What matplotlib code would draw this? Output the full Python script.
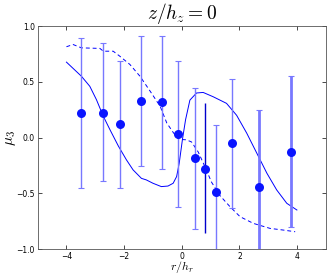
import numpy as np
import matplotlib
matplotlib.use("Agg")
import matplotlib.pyplot as plt

# data points with asymmetric error bars
r_pts = [-3.48, -2.72, -2.16, -1.40, -0.67, -0.115, 0.44, 1.19, 1.75, 2.67, 3.79]
mu_pts = [0.22, 0.22, 0.12, 0.33, 0.315, 0.03, -0.185, -0.485, -0.05, -0.445, -0.13]
err_hi = [0.89, 0.845, 0.69, 0.91, 0.91, 0.69, 0.445, 0.115, 0.525, 0.25, 0.55]
err_lo = [-0.455, -0.39, -0.455, -0.255, -0.285, -0.625, -0.82, -1.2, -0.635, -1.2, -0.80]
thick = [False, False, False, False, False, False, False, False, False, True, True]

# the darker bar without caps
r_dark = 0.81
mu_dark = -0.28
dark_hi = 0.307
dark_lo = -0.86

# solid model curve
r_solid = [-4.0, -3.48, -3.19, -2.96, -2.72, -2.49, -2.2, -1.92, -1.69, -1.40, -1.23,
           -1.00, -0.71, -0.48, -0.30, -0.18, -0.09, 0.02, 0.13, 0.28, 0.51, 0.74,
           1.09, 1.55, 1.90, 2.25, 2.60, 2.95, 3.29, 3.64, 3.99]
mu_solid = [0.677, 0.55, 0.46, 0.34, 0.19, 0.07, -0.076, -0.20, -0.29, -0.366, -0.38,
            -0.41, -0.44, -0.435, -0.41, -0.35, -0.23, -0.02, 0.16, 0.336, 0.40, 0.405,
            0.366, 0.307, 0.20, 0.04, -0.14, -0.32, -0.47, -0.59, -0.65]

# dashed model curve
r_dash = [-4.0, -3.77, -3.48, -2.84, -2.72, -2.38, -2.15, -1.80, -1.45, -1.10, -0.75,
          -0.52, -0.29, -0.11, 0.16, 0.34, 0.57, 0.80, 1.03, 1.32, 1.67, 2.02, 2.48,
          3.06, 3.52, 3.93]
mu_dash = [0.815, 0.835, 0.805, 0.80, 0.775, 0.775, 0.73, 0.656, 0.55, 0.417, 0.28,
           0.13, 0.043, -0.016, -0.02, -0.04, -0.13, -0.26, -0.40, -0.52, -0.62, -0.71,
           -0.77, -0.815, -0.83, -0.845]

plt.rcParams['font.size'] = 5.5
plt.rcParams['mathtext.fontset'] = 'cm'
fig = plt.figure(figsize=(3.27, 2.75), dpi=100)
ax = fig.add_axes([0.115, 0.0945, 0.882, 0.8105])

ax.plot(r_solid, mu_solid, color='#0000ff', lw=0.7)
ax.plot(r_dash, mu_dash, color='#0000ff', lw=0.7, ls='--', dashes=(4, 3))

for x, y, hi, lo, t in zip(r_pts, mu_pts, err_hi, err_lo, thick):
    ax.errorbar([x], [y], yerr=[[y - lo], [hi - y]], fmt='none',
                ecolor='#7878ff', elinewidth=2.0 if t else 1.0, capsize=2.5, capthick=0.8)

ax.vlines(r_dark, dark_lo, dark_hi, color='#0000cc', lw=1.0)
ax.plot(r_pts + [r_dark], mu_pts + [mu_dark], 'o', color='#0a14ff', ms=6.5, mew=0)

ax.set_xlim(-5, 5)
ax.set_ylim(-1, 1)
ax.set_xticks([-4, -2, 0, 2, 4])
ax.set_yticks([-1.0, -0.5, 0.0, 0.5, 1.0])
ax.tick_params(direction='in', top=True, right=True, length=3, width=0.5, pad=2)
for s in ax.spines.values():
    s.set_linewidth(0.6)
    s.set_color('#555555')

ax.set_title(r'$z/h_z=0$', fontsize=14, pad=5)
ax.set_xlabel(r'$r/h_r$', fontsize=8.5, labelpad=-1)
ax.set_ylabel(r'$\mu_3$', fontsize=11, labelpad=-1)

fig.savefig('out.png', dpi=100)
